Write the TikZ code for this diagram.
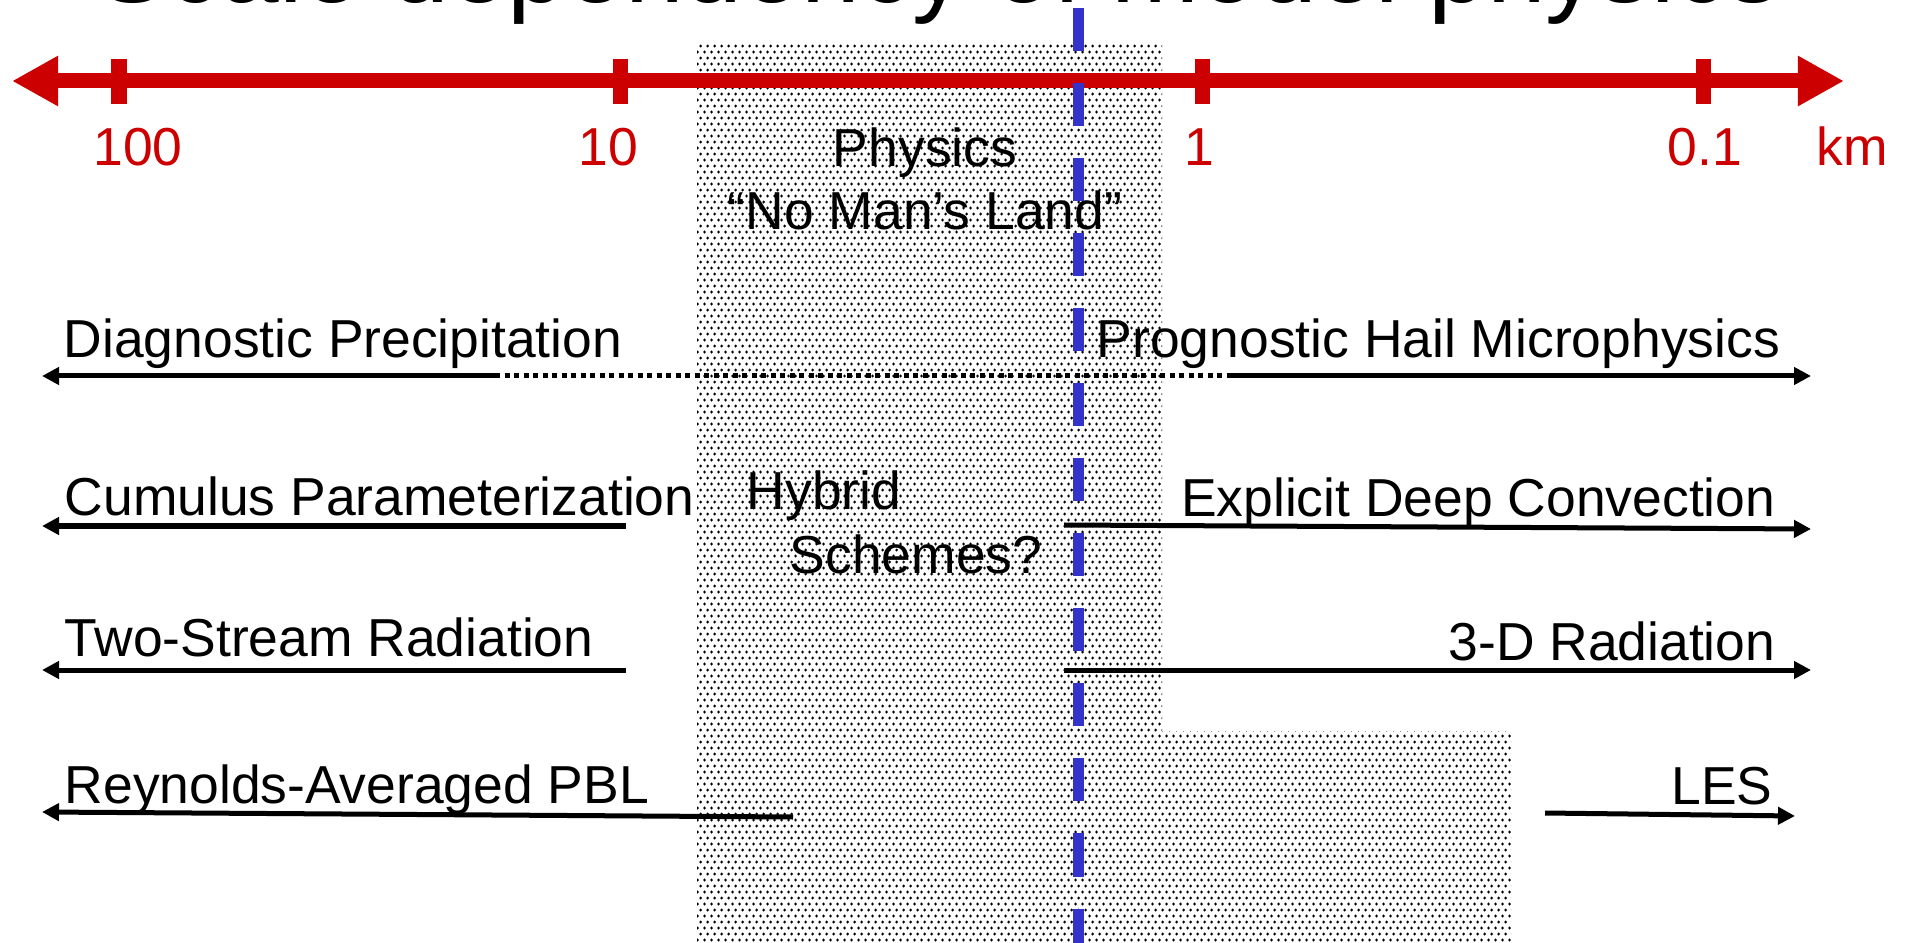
\documentclass[tikz,border=0pt]{standalone}
\usepackage{fontspec}
\setmainfont{Liberation Sans}
\usetikzlibrary{arrows.meta,patterns.meta}
\definecolor{scaleRed}{RGB}{204,0,0}
\definecolor{scaleBlue}{RGB}{51,51,204}
\tikzdeclarepattern{
  name=stipple,
  type=uncolored,
  bounding box={(0pt,0pt) and (2pt,3.4pt)},
  tile size={(2pt,3.4pt)},
  code={
    \pgfpathcircle{\pgfqpoint{0.5pt}{0.85pt}}{0.45pt}
    \pgfpathcircle{\pgfqpoint{1.5pt}{2.55pt}}{0.45pt}
    \pgfusepath{fill}
  }
}

\begin{document}
\begin{tikzpicture}[x=0.01cm,y=-0.01cm,
    lbl/.style={font=\fontsize{15.2}{18}\selectfont,inner sep=0pt},
    kmlbl/.style={lbl,text=scaleRed,anchor=base},
    axis/.style={line width=0.15cm,scaleRed,{Triangle[length=0.46cm,width=0.47cm]}-{Triangle[length=0.46cm,width=0.47cm]}},
    tickmark/.style={line width=0.15cm,scaleRed},
    arr/.style={line width=0.05cm,-{Triangle[length=0.17cm,width=0.17cm]}},
    dotline/.style={line width=0.05cm,dash pattern=on 0.05cm off 0.045cm},
    divide/.style={line width=0.11cm,scaleBlue,dash pattern=on 0.43cm off 0.32cm}
  ]
  \useasboundingbox (0,0) rectangle (1906,943);
  \clip (0,0) rectangle (1906,943);
  \fill[pattern=stipple,pattern color=black] (697,43) -- (1162,43) -- (1162,731) -- (1511,731) -- (1511,943) -- (697,943) -- cycle;
  \node[font=\fontsize{30}{36}\selectfont,inner sep=0pt,anchor=base] (title) at (939,3) {Scale dependency of model physics};

  \coordinate (axl) at (12,81); \coordinate (axr) at (1844,81);
  \draw[axis] (axl) -- (axr);
  \foreach \x in {119,620,1202,1703} \draw[tickmark] (\x,59) -- (\x,104);
  \node[kmlbl] (k100) at (138,166) {100};
  \node[kmlbl] (k10) at (608,166) {10};
  \node[kmlbl] (k1) at (1199,166) {1};
  \node[kmlbl] (k01) at (1705,166) {0.1};
  \node[kmlbl] (km) at (1852,166) {km};

  \node[lbl,align=center,anchor=base] (nml) at (925,230) {Physics\\“No Man’s Land”};

  \node[lbl,anchor=base west] (diag) at (63,358) {Diagnostic Precipitation};
  \node[lbl,anchor=base west] (prog) at (1096,358) {Prognostic Hail Microphysics};
  \node[lbl,anchor=base west] (cumu) at (64,515) {Cumulus Parameterization};
  \node[lbl,anchor=base west,align=left] (hyb) at (746,573) {Hybrid\\\hspace*{0.43cm}Schemes?};
  \node[lbl,anchor=base east] (expl) at (1776,517) {Explicit Deep Convection};
  \node[lbl,anchor=base west] (twos) at (64,656) {Two-Stream Radiation};
  \node[lbl,anchor=base east] (rad3) at (1776,660) {3-D Radiation};
  \node[lbl,anchor=base west] (reyn) at (64,803) {Reynolds-Averaged PBL};
  \node[lbl,anchor=base east] (les) at (1773,804) {LES};

  \coordinate (dpA) at (495,376); \coordinate (dpB) at (42,376);
  \coordinate (phA) at (1230,376); \coordinate (phB) at (1811,376);
  \draw[arr] (dpA) -- (dpB); \draw[dotline] (dpA) -- (phA); \draw[arr] (phA) -- (phB);
  \coordinate (cuA) at (626,526); \coordinate (cuB) at (42,526);
  \coordinate (exA) at (1064,525); \coordinate (exB) at (1811,529);
  \draw[arr] (cuA) -- (cuB); \draw[arr] (exA) -- (exB);
  \coordinate (tsA) at (626,670); \coordinate (tsB) at (42,670);
  \coordinate (r3A) at (1064,670); \coordinate (r3B) at (1811,670);
  \draw[arr] (tsA) -- (tsB); \draw[arr] (r3A) -- (r3B);
  \coordinate (raA) at (793,817); \coordinate (raB) at (42,812);
  \coordinate (leA) at (1545,813); \coordinate (leB) at (1795,816);
  \draw[arr] (raA) -- (raB); \draw[arr] (leA) -- (leB);

  \coordinate (bt) at (1078,8); \coordinate (bb) at (1078,943);
  \draw[divide] (bt) -- (bb);
\end{tikzpicture}
\end{document}
